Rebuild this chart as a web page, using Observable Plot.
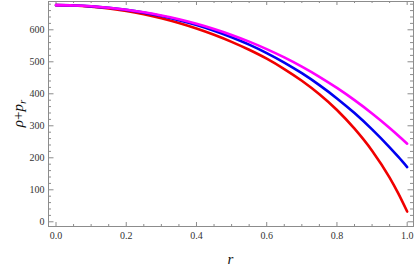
<!DOCTYPE html>
<html><head><meta charset="utf-8">
<script src="https://cdn.jsdelivr.net/npm/d3@7"></script>
<script src="https://cdn.jsdelivr.net/npm/@observablehq/plot@0.6"></script>
<style>html,body{margin:0;padding:0;background:#fff}</style>
</head><body><div id="chart"></div>
<script>
// radius samples
const r = [0, 0.05, 0.1, 0.15, 0.2, 0.25, 0.3, 0.35, 0.4, 0.45, 0.5, 0.55, 0.6, 0.65, 0.7, 0.75, 0.8, 0.85, 0.9, 0.95, 0.975, 1.0];
// rho + p_r
const magenta = [677, 676.1, 673.5, 669.0, 662.8, 654.6, 644.6, 632.6, 618.5, 602.2, 583.8, 562.9, 539.6, 513.6, 484.8, 453.1, 418.3, 380.2, 338.6, 293.3, 269.1, 244];
const blue    = [677, 676.1, 673.3, 668.7, 662.2, 653.6, 643.0, 630.2, 615.0, 597.3, 576.9, 553.7, 527.3, 497.6, 464.3, 427.1, 385.6, 339.7, 288.8, 232.7, 202.6, 171];
const red     = [677, 675.9, 672.4, 666.7, 658.8, 648.5, 636.0, 621.1, 603.9, 584.3, 562.3, 537.5, 509.7, 477.3, 440.7, 398.6, 349.5, 291.0, 222.3, 138.1, 88.1, 32];
// ticks
const xMajor = [0, 0.2, 0.4, 0.6, 0.8, 1.0];
const xMinor = [0.05, 0.1, 0.15, 0.25, 0.3, 0.35, 0.45, 0.5, 0.55, 0.65, 0.7, 0.75, 0.85, 0.9, 0.95];
const yMajor = [0, 100, 200, 300, 400, 500, 600];
const yMinor = [20, 40, 60, 80, 120, 140, 160, 180, 220, 240, 260, 280, 320, 340, 360, 380, 420, 440, 460, 480, 520, 540, 560, 580, 620, 640, 660, 680];

const W = 415, H = 268, mt = 1, mb = 42, ml = 48, mr = 2;
const innerW = W - ml - mr, innerH = H - mt - mb;
const frameColor = "#8c8c8c";
const font = "'Liberation Serif', 'DejaVu Serif', serif";

const series = [
  {name: "red", color: "#f00000", values: red},
  {name: "blue", color: "#0000f0", values: blue},
  {name: "magenta", color: "#ff00ff", values: magenta}
];

const lineMarks = series.map(s =>
  Plot.line(r.map((x, i) => ({x, y: s.values[i]})), {x: "x", y: "y", stroke: s.color, strokeWidth: 2.6, curve: "monotone-x"})
);

const chart = Plot.plot({
  width: W, height: H,
  marginTop: mt, marginBottom: mb, marginLeft: ml, marginRight: mr,
  style: {fontFamily: font, fontSize: "10px", color: "#333", background: "#fff"},
  x: {domain: [-0.0214, 1.018], label: null},
  y: {domain: [-14.7, 688.4], label: null},
  marks: [
    // tick marks on all four sides, pointing inward
    Plot.ruleX(xMajor, {x: d => d, insetTop: innerH - 4, stroke: frameColor}),
    Plot.ruleX(xMinor, {x: d => d, insetTop: innerH - 2, stroke: frameColor}),
    Plot.ruleX(xMajor, {x: d => d, insetBottom: innerH - 4, stroke: frameColor}),
    Plot.ruleX(xMinor, {x: d => d, insetBottom: innerH - 2, stroke: frameColor}),
    Plot.ruleY(yMajor, {y: d => d, insetRight: innerW - 5.5, stroke: frameColor}),
    Plot.ruleY(yMinor, {y: d => d, insetRight: innerW - 3, stroke: frameColor}),
    Plot.ruleY(yMajor, {y: d => d, insetLeft: innerW - 5.5, stroke: frameColor}),
    Plot.ruleY(yMinor, {y: d => d, insetLeft: innerW - 3, stroke: frameColor}),
    ...lineMarks,
    Plot.frame({stroke: frameColor, strokeWidth: 1}),
    Plot.axisX(xMajor, {tickSize: 0, tickPadding: 5, tickFormat: d3.format(".1f"), label: null, fill: "#333"}),
    Plot.axisY(yMajor, {tickSize: 0, tickPadding: 4, tickFormat: d3.format("d"), label: null, fill: "#333"})
  ]
});

document.getElementById("chart").appendChild(chart);

// axis titles as real text
const svg = d3.select(chart);
svg.append("text")
  .attr("x", ml + innerW / 2).attr("y", H - 4)
  .attr("text-anchor", "middle")
  .style("font-family", font).style("font-size", "15px").style("font-style", "italic").attr("fill", "#111")
  .text("r");

const yl = svg.append("text")
  .attr("transform", `translate(23,${mt + innerH / 2}) rotate(-90)`)
  .attr("text-anchor", "middle")
  .style("font-family", font).style("font-size", "15px").attr("fill", "#111");
yl.append("tspan").style("font-style", "italic").text("ρ");
yl.append("tspan").text("+");
yl.append("tspan").style("font-style", "italic").text("p");
yl.append("tspan").style("font-style", "italic").style("font-size", "11px").attr("dy", 3).text("r");
</script>
</body></html>
